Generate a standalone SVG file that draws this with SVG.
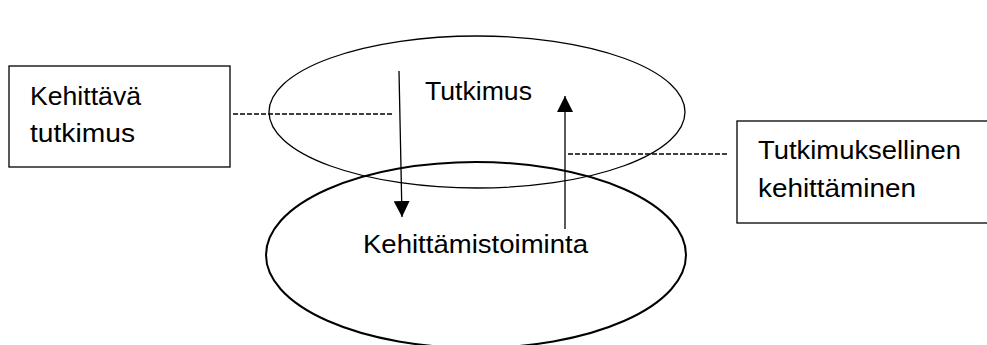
<svg xmlns="http://www.w3.org/2000/svg" width="987" height="345" viewBox="0 0 987 345">
<style>
.t{font-family:"Liberation Sans",Arial,sans-serif;font-size:25.5px;fill:#000}
.box{fill:#fff;stroke:#000;stroke-width:1.3}
.dash{stroke:#000;stroke-width:1.5;stroke-dasharray:5 2;fill:none}
.arr{stroke:#000;stroke-width:1.3;fill:none;marker-end:url(#ah)}
</style>
<defs>
<marker id="ah" markerUnits="userSpaceOnUse" markerWidth="16" markerHeight="16" viewBox="0 0 15 15" refX="15" refY="7.5" orient="auto">
<path d="M0,0 L15,7.5 L0,15 Z" fill="#000"/>
</marker>
</defs>
<rect width="987" height="345" fill="#fff"/>
<g id="kehittamistoiminta">
<ellipse cx="476" cy="255" rx="210" ry="93" fill="none" stroke="#000" stroke-width="2"/>
<text class="t" x="363" y="253" textLength="225" lengthAdjust="spacingAndGlyphs">Kehittämistoiminta</text>
</g>
<g id="tutkimus">
<ellipse cx="477" cy="112" rx="208" ry="76" fill="none" stroke="#000" stroke-width="1.3"/>
<text class="t" x="425" y="100" textLength="107" lengthAdjust="spacingAndGlyphs">Tutkimus</text>
</g>
<g id="kehittava-tutkimus">
<rect class="box" x="9" y="66" width="221" height="101"/>
<text class="t" x="30" y="105" textLength="111" lengthAdjust="spacingAndGlyphs">Kehittävä</text>
<text class="t" x="30" y="142" textLength="105" lengthAdjust="spacingAndGlyphs">tutkimus</text>
</g>
<g id="tutkimuksellinen-kehittaminen">
<rect class="box" x="737" y="121" width="260" height="102"/>
<text class="t" x="758" y="159" textLength="203" lengthAdjust="spacingAndGlyphs">Tutkimuksellinen</text>
<text class="t" x="758" y="197" textLength="158" lengthAdjust="spacingAndGlyphs">kehittäminen</text>
</g>
<g id="connectors">
<line class="dash" x1="233" y1="114" x2="393" y2="114"/>
<line class="dash" x1="568" y1="154" x2="727" y2="154"/>
<line class="arr" x1="399" y1="71" x2="402" y2="217"/>
<line class="arr" x1="565" y1="229" x2="565" y2="96"/>
</g>
</svg>
